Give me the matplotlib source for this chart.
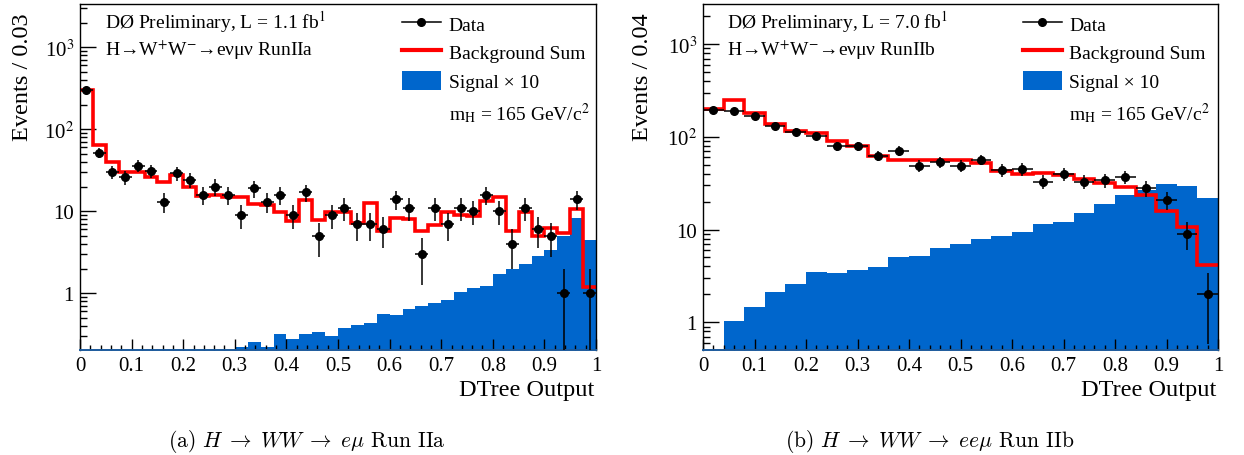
import numpy as np
import matplotlib
matplotlib.use('Agg')
import matplotlib.pyplot as plt
from matplotlib.lines import Line2D
from matplotlib.patches import Patch
from matplotlib.ticker import LogLocator, MultipleLocator, FuncFormatter, NullFormatter

plt.rcParams['font.family'] = ['Liberation Serif', 'DejaVu Serif']
plt.rcParams['mathtext.fontset'] = 'stix'

# ---------------- Panel (a): Run IIa, 40 bins of width 0.025 ----------------
edges_a = np.linspace(0.0, 1.0, 41)
data_a = [300, 52, 30, 26, 36, 31, 13, 29, 24, 16,
          20, 16, 9, 19, 13, 16, 9, 17, 5, 9,
          11, 7, 7, 6, 14, 11, 3, 11, 7, 11,
          10, 16, 10, 4, 11, 6, 5, 1, 14, 1]
bkg_a = [300, 64, 40, 30, 30, 26, 22.5, 28, 19.8, 15.4,
         15.8, 15.0, 14.8, 12.3, 12.0, 9.9, 7.7, 13.9, 7.9, 9.7,
         9.7, 7.1, 12.6, 5.8, 8.2, 8.1, 5.8, 6.8, 9.9, 9.0,
         8.8, 13.5, 14.8, 5.7, 9.7, 4.95, 6.2, 5.4, 10.7, 1.2]
sig_a = [0.1, 0.1, 0.1, 0.1, 0.1, 0.1, 0.1, 0.1, 0.1, 0.1,
         0.1, 0.1, 0.219, 0.252, 0.22, 0.32, 0.277, 0.32, 0.334, 0.30,
         0.377, 0.41, 0.435, 0.555, 0.55, 0.644, 0.69, 0.755, 0.837, 1.03,
         1.15, 1.22, 1.71, 1.98, 2.28, 2.88, 3.41, 4.95, 8.2, 4.5]

# ---------------- Panel (b): Run IIb, 25 bins of width 0.04 ----------------
edges_b = np.linspace(0.0, 1.0, 26)
data_b = [195, 192, 170, 131, 114, 103, 80, 80, 63, 71,
          49, 54, 49, 57, 44, 45, 33, 40, 33, 34,
          37, 28, 21, 9, 2]
bkg_b = [200, 251, 180, 137, 116, 110, 91, 79, 62, 57,
         57, 57, 57, 52, 43, 40, 41, 39, 35, 32,
         28.6, 23.7, 15.8, 10.7, 4.1]
sig_b = [0.3, 1.02, 1.47, 2.1, 2.6, 3.5, 3.4, 3.7, 3.9, 5.05,
         5.15, 6.4, 7.0, 8.0, 8.5, 9.4, 11.4, 12.0, 15.1, 18.8,
         23.7, 26.8, 30.8, 29.6, 21.8]

BLUE = '#0066cc'
RED = '#ff0000'

W, H = 1244, 456
fig = plt.figure(figsize=(W / 100, H / 100), dpi=100)
ax_bottom = (H - 350.7) / H
ax_height = 345.7 / H
ax1 = fig.add_axes([80 / W, ax_bottom, 516 / W, ax_height])
ax2 = fig.add_axes([703 / W, ax_bottom, 515 / W, ax_height])


def ylab(v, pos):
    if v <= 0:
        return ''
    e = int(round(np.log10(v)))
    if e == 0:
        return '1'
    if e == 1:
        return '10'
    return r'10$^{%d}$' % e


def draw(ax, edges, data, bkg, sig, ylim, ylabel, ylab_x, lumi, run,
         leg_x, txt_x):
    ax.set_yscale('log')
    ax.stairs(sig, edges, baseline=1e-4, fill=True, color=BLUE,
              edgecolor='none', zorder=1)
    ax.stairs(bkg, edges, baseline=None, color=RED, lw=2.6, zorder=2)
    centers = 0.5 * (edges[:-1] + edges[1:])
    half = 0.5 * np.diff(edges)
    n = np.asarray(data, float)
    err = np.sqrt(n)
    lo = np.minimum(err, n * 0.9999)
    ax.errorbar(centers, n, xerr=half, yerr=[lo, err], fmt='o', color='black',
                ms=5.5, elinewidth=1.1, capsize=0, zorder=3)
    ax.set_xlim(0, 1)
    ax.set_ylim(*ylim)

    ax.xaxis.set_major_locator(MultipleLocator(0.1))
    ax.xaxis.set_minor_locator(MultipleLocator(0.02))
    ax.xaxis.set_major_formatter(FuncFormatter(lambda v, p: '%g' % round(v, 2)))
    ax.yaxis.set_major_locator(LogLocator(base=10))
    ax.yaxis.set_minor_locator(LogLocator(base=10, subs=np.arange(2, 10)))
    ax.yaxis.set_major_formatter(FuncFormatter(ylab))
    ax.yaxis.set_minor_formatter(NullFormatter())
    ax.tick_params(axis='x', which='major', direction='in', length=8,
                   width=1, pad=4.5, labelsize=15)
    ax.tick_params(axis='x', which='minor', direction='in', length=3.6, width=1)
    ax.tick_params(axis='y', which='major', direction='in', length=11.5,
                   width=1, pad=4.3, labelsize=15)
    ax.tick_params(axis='y', which='minor', direction='in', length=5, width=1)
    for s in ax.spines.values():
        s.set_linewidth(1.0)
    ax.spines['bottom'].set_color('#1c5a9c')
    ax.spines['bottom'].set_linewidth(1.4)

    ax.set_ylabel(ylabel, fontsize=17.5, ha='right', va='center')
    ax.yaxis.set_label_coords(ylab_x, 0.977)
    ax.set_xlabel('DTree Output', fontsize=17.5, ha='right', va='center')
    ax.xaxis.set_label_coords(0.997, -0.115)

    ax.text(txt_x, 0.951, 'DØ Preliminary, L = %s fb$^{1}$' % lumi,
            transform=ax.transAxes, fontsize=14, ha='left', va='center')
    ax.text(txt_x, 0.870, 'H→W$^{+}$W$^{-}$→eνμν %s' % run,
            transform=ax.transAxes, fontsize=14, ha='left', va='center')

    handles = [Line2D([], [], color='black', marker='o', ms=5.5, lw=1.1),
               Line2D([], [], color=RED, lw=3),
               Patch(facecolor=BLUE, edgecolor='none'),
               Line2D([], [], alpha=0)]
    labels = ['Data', 'Background Sum', 'Signal × 10',
              r'm$_{\rm H}$ = 165 GeV/c$^{2}$']
    ax.legend(handles, labels, loc='upper left', bbox_to_anchor=(leg_x, 0.972),
              frameon=False, fontsize=14, handlelength=2.0, handleheight=1.1,
              handletextpad=0.4, labelspacing=0.45, borderpad=0,
              borderaxespad=0)


draw(ax1, edges_a, data_a, bkg_a, sig_a, (0.205, 3370), 'Events / 0.03',
     -0.112, '1.1', 'RunIIa', 0.624, 0.0485)
draw(ax2, edges_b, data_b, bkg_b, sig_b, (0.506, 2717), 'Events / 0.04',
     -0.118, '7.0', 'RunIIb', 0.621, 0.047)

fig.text(307 / W, 1 - 442 / H,
         r'(a) $H\;\rightarrow\;WW\;\rightarrow\;e\mu$ Run IIa',
         family='cmr10', math_fontfamily='cm', fontsize=15.5,
         ha='center', va='center')
fig.text(930 / W, 1 - 442 / H,
         r'(b) $H\;\rightarrow\;WW\;\rightarrow\;ee\mu$ Run IIb',
         family='cmr10', math_fontfamily='cm', fontsize=15.5,
         ha='center', va='center')

fig.savefig('out.png', dpi=100)
